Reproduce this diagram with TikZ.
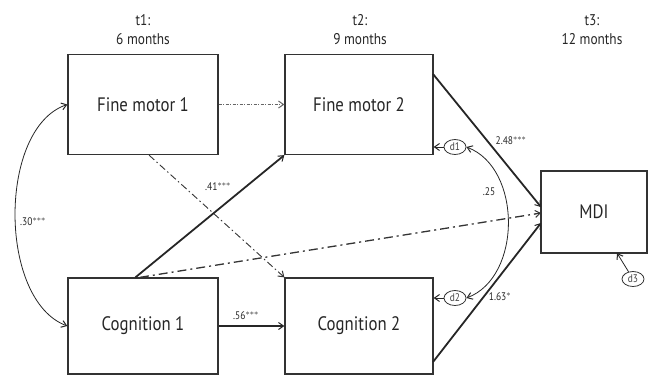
\documentclass[tikz,border=0pt]{standalone}
\usepackage{fontspec}
\setmainfont{PT Sans}[FakeStretch=0.86]
\usetikzlibrary{arrows.meta,shapes.geometric,calc}
\begin{document}
\begin{tikzpicture}[x=1pt,y=-1pt,
  varbox/.style={draw=black!80,line width=1.3pt,rectangle,inner sep=0pt,font=\fontsize{19.5}{19}\selectfont,text=black!85},
  errnode/.style={draw=black!80,line width=0.8pt,ellipse,inner sep=0pt,minimum width=22pt,minimum height=15pt,font=\fontsize{11}{10}\selectfont,text=black!75},
  hdr/.style={font=\fontsize{15.5}{19}\selectfont,text=black!85,align=center},
  coef/.style={font=\fontsize{11}{10}\selectfont,text=black!85,inner sep=1pt},
  barb/.tip={Straight Barb[length=5pt,width=7pt,line width=1pt]},
  tip/.style={-barb},
  bothtips/.style={barb-barb},
  thinpath/.style={draw=black!85,line width=0.8pt},
  strongpath/.style={draw=black!85,line width=1.8pt},
  ddot/.style={draw=black!60,line width=0.7pt,dash pattern=on 3pt off 1.5pt on 1pt off 1.5pt},
  ddash/.style={draw=black!80,line width=0.9pt,dash pattern=on 7pt off 3pt on 1.5pt off 3pt},
  ddashthick/.style={draw=black!80,line width=1.3pt,dash pattern=on 9pt off 4pt on 2pt off 4pt}
]
\useasboundingbox (0,0) rectangle (653,376);

% time headers
\node[hdr] (h1) at (143,30) {t1:\\6 months};
\node[hdr] (h2) at (360,30) {t2:\\9 months};
\node[hdr] (h3) at (592,30) {t3:\\12 months};

% observed variables
\node[varbox,minimum width=150pt,minimum height=100pt] (fm1) at (143,104.5) {Fine motor 1};
\node[varbox,minimum width=148pt,minimum height=100pt] (fm2) at (359,104.5) {Fine motor 2};
\node[varbox,minimum width=150pt,minimum height=96pt] (cg1) at (143,326) {Cognition 1};
\node[varbox,minimum width=148pt,minimum height=96pt] (cg2) at (359,326) {Cognition 2};
\node[varbox,minimum width=106pt,minimum height=82pt] (mdi) at (594,212) {MDI};

% disturbances
\node[errnode] (d1) at (455,147) {d1};
\node[errnode] (d2) at (455,298) {d2};
\node[errnode] (d3) at (633,279) {d3};

% anchor points on the box edges
\coordinate (fm2o) at (433,74);
\coordinate (cg2o) at (433,362);
\coordinate (mdiA) at (541,207);
\coordinate (mdiB) at (541,213);
\coordinate (mdiC) at (541,223);
\coordinate (cg1a) at ($(cg1.north west)!0.45!(cg1.north east)$);
\coordinate (cg1b) at ($(cg1.north west)!0.48!(cg1.north east)$);
\coordinate (fm1a) at ($(fm1.south west)!0.54!(fm1.south east)$);
\coordinate (fm2d) at (fm2.east |- d1);
\coordinate (cg2d) at (cg2.east |- d2);
\coordinate (mdid) at (617,253);

% cross-lagged and autoregressive paths
\draw[ddot,tip] (fm1.east) -- (fm2.west);
\draw[ddash,tip] (fm1a) -- (cg2.north west);
\draw[strongpath,tip] (cg1a) -- (fm2.south west);
\draw[ddashthick,tip] (cg1b) -- (mdiB);
\draw[strongpath,tip] (cg1.east) -- (cg2.west);
\draw[strongpath,tip] (fm2o) -- (mdiA);
\draw[strongpath,tip] (cg2o) -- (mdiC);

% disturbance arrows
\draw[thinpath,tip] (d1) -- (fm2d);
\draw[thinpath,tip] (d2) -- (cg2d);
\draw[thinpath,tip] (d3) -- (mdid);

% covariances
\draw[thinpath,bothtips] (fm1.west) .. controls (-2,128) and (-2,300) .. (cg1.west);
\draw[thinpath,bothtips] (d1.east) .. controls (522,168) and (522,277) .. (d2.east);

% coefficients
\node[coef] (c30) at (33,222) {.30$^{***}$};
\node[coef] (c41) at (218,187) {.41$^{***}$};
\node[coef] (c56) at (246,316) {.56$^{***}$};
\node[coef] (c25) at (489,192) {.25};
\node[coef] (c248) at (511,141) {2.48$^{***}$};
\node[coef] (c163) at (500,297) {1.63$^{*}$};
\end{tikzpicture}
\end{document}
